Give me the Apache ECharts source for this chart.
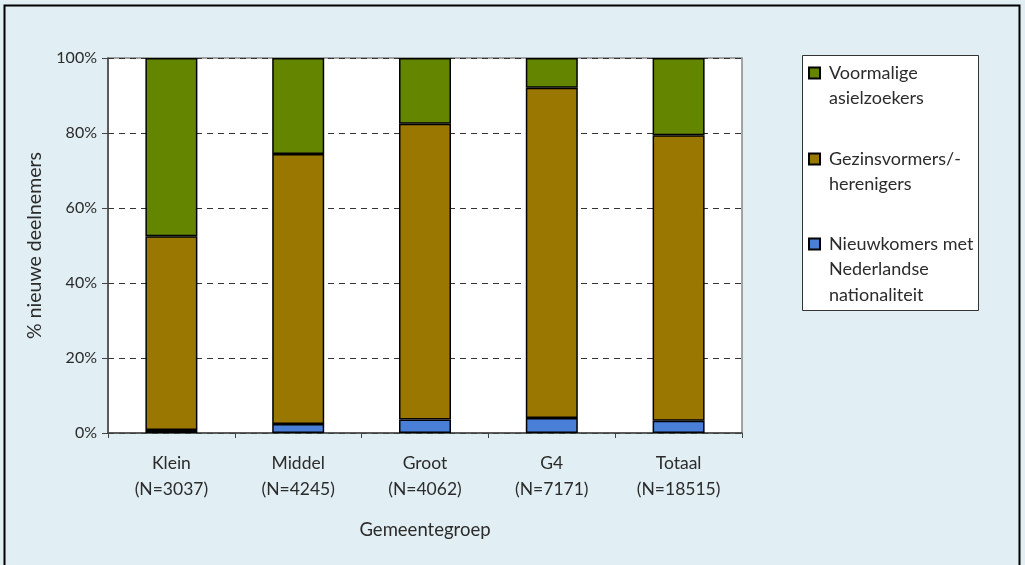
<!DOCTYPE html>
<html><head><meta charset="utf-8">
<script src="https://cdn.jsdelivr.net/npm/echarts@6/dist/echarts.min.js"></script>
<style>html,body{margin:0;padding:0;background:#fff}#c{width:1025px;height:565px}</style>
</head><body><div id="c"></div>
<script>
const categories = ['Klein\n(N=3037)', 'Middel\n(N=4245)', 'Groot\n(N=4062)', 'G4\n(N=7171)', 'Totaal\n(N=18515)'];
const nieuwkomers = [0.8, 2.4, 3.6, 4.0, 3.3];
const gezinsvormers = [51.7, 72.0, 78.9, 88.1, 76.1];
const voormalige = [47.5, 25.6, 17.5, 7.9, 20.6];
const yTicks = [0, 20, 40, 60, 80, 100];
const seriesNames = ['Nieuwkomers met\nNederlandse\nnationaliteit', 'Gezinsvormers/-\nherenigers', 'Voormalige\nasielzoekers'];

const FONT = 'Lato';
const TXT = '#2b2b2b';
const colors = ['#4A7FD8', '#9A7700', '#638500'];
const LH = 25.5;

function mkLegend(name, iconCenter) {
  const n = name.split('\n').length;
  return {
    left: 808, top: iconCenter - (2 * n - 1) * LH / 2, padding: 0, itemWidth: 11, itemHeight: 11, itemGap: 0,
    data: [name],
    formatter: nm => '\n'.repeat(n - 1) + nm,
    textStyle: { fontFamily: FONT, fontSize: 18, color: TXT, lineHeight: LH, padding: [0, 0, 0, 4] },
    icon: 'rect', selectedMode: false
  };
}

const chart = echarts.init(document.getElementById('c'));
chart.setOption({
  backgroundColor: '#E1EEF3',
  animation: false,
  textStyle: { fontFamily: FONT },
  graphic: [
    { type: 'rect', z: -10, shape: { x: 4.5, y: 5.5, width: 1015, height: 600 }, style: { fill: null, stroke: '#000', lineWidth: 2 } },
    { type: 'rect', z: -10, shape: { x: 802.5, y: 55.5, width: 176, height: 255 }, style: { fill: '#fff', stroke: '#333', lineWidth: 1 } }
  ],
  legend: [
    mkLegend(seriesNames[2], 73),
    mkLegend(seriesNames[1], 159),
    mkLegend(seriesNames[0], 244)
  ],
  grid: { left: 108, right: 283, top: 58, bottom: 132, show: true, backgroundColor: '#fff', borderColor: '#888', borderWidth: 1.5 },
  xAxis: {
    type: 'category', data: categories,
    name: 'Gemeentegroep', nameLocation: 'middle', nameGap: 88,
    nameTextStyle: { fontFamily: FONT, fontSize: 18.5, color: TXT },
    axisLine: { lineStyle: { color: '#444', width: 1.5 } },
    axisTick: { show: true, length: 5, lineStyle: { color: '#444' } },
    axisLabel: { fontFamily: FONT, fontSize: 17.5, color: TXT, lineHeight: 26, margin: 17 }
  },
  yAxis: {
    type: 'value', min: 0, max: 100, interval: 20,
    name: '% nieuwe deelnemers', nameLocation: 'middle', nameGap: 63,
    nameTextStyle: { fontFamily: FONT, fontSize: 19.5, color: TXT },
    axisLine: { show: true, lineStyle: { color: '#444', width: 1.5 } },
    axisTick: { show: true, length: 6, lineStyle: { color: '#444' } },
    axisLabel: { fontFamily: FONT, fontSize: 16, color: TXT, margin: 11,
      formatter: v => yTicks.includes(v) ? v + '%' : '' },
    splitLine: { lineStyle: { color: '#333', type: [6, 5], width: 1 } }
  },
  series: [
    { name: seriesNames[0], type: 'bar', stack: 't', data: nieuwkomers, barWidth: 52,
      itemStyle: { color: colors[0], borderColor: '#000', borderWidth: 1.5 } },
    { name: seriesNames[1], type: 'bar', stack: 't', data: gezinsvormers, barWidth: 52,
      itemStyle: { color: colors[1], borderColor: '#000', borderWidth: 1.5 } },
    { name: seriesNames[2], type: 'bar', stack: 't', data: voormalige, barWidth: 52,
      itemStyle: { color: colors[2], borderColor: '#000', borderWidth: 1.5 } }
  ]
});
</script></body></html>
